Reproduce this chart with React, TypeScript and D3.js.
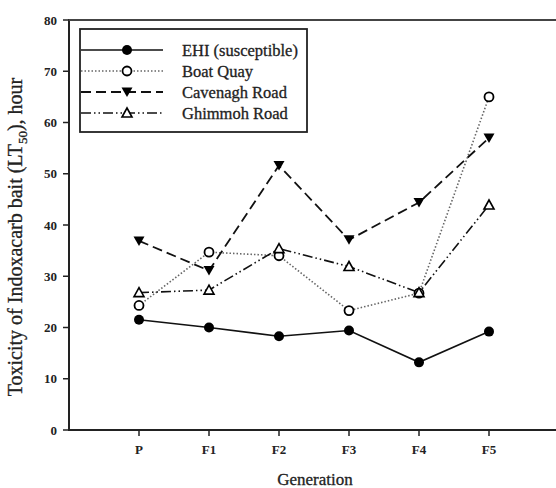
import { useEffect, useRef } from "react";
import * as d3 from "d3";

const generations = ["P", "F1", "F2", "F3", "F4", "F5"];
const ehi = [21.5, 20.0, 18.3, 19.4, 13.2, 19.2];
const boatQuay = [24.3, 34.7, 34.0, 23.3, 26.7, 65.0];
const cavenagh = [36.9, 31.1, 51.6, 37.1, 44.4, 57.0];
const ghimmoh = [26.8, 27.3, 35.4, 31.9, 26.8, 43.9];
const yTicks = [0, 10, 20, 30, 40, 50, 60, 70, 80];

const series = [
  { name: "EHI (susceptible)", values: ehi, dash: "", color: "#111", width: 1.6, marker: "dot" },
  { name: "Boat Quay", values: boatQuay, dash: "1.5,2", color: "#666", width: 1.6, marker: "circle" },
  { name: "Cavenagh Road", values: cavenagh, dash: "10,5", color: "#111", width: 1.8, marker: "tridown" },
  { name: "Ghimmoh Road", values: ghimmoh, dash: "10,3,1.5,3,1.5,3", color: "#111", width: 1.6, marker: "triup" },
];

function drawMarker(g, kind, x, y) {
  if (kind === "dot") {
    g.append("circle").attr("cx", x).attr("cy", y).attr("r", 5).attr("fill", "#000");
  } else if (kind === "circle") {
    g.append("circle").attr("cx", x).attr("cy", y).attr("r", 4.5)
      .attr("fill", "#fff").attr("stroke", "#000").attr("stroke-width", 1.8);
  } else if (kind === "tridown") {
    g.append("path").attr("d", `M${x - 5.5},${y - 4.5}L${x + 5.5},${y - 4.5}L${x},${y + 5}Z`).attr("fill", "#000");
  } else {
    g.append("path").attr("d", `M${x - 5},${y + 4}L${x + 5},${y + 4}L${x},${y - 5}Z`)
      .attr("fill", "#fff").attr("stroke", "#000").attr("stroke-width", 1.6);
  }
}

function App() {
  const svgRef = useRef(null);

  useEffect(() => {
    const width = 556;
    const height = 488;
    const svg = d3.select(svgRef.current);
    svg.selectAll("*").remove();

    const x = d3.scaleLinear().domain([0, 7]).range([69, 559]);
    const y = d3.scaleLinear().domain([0, 80]).range([430, 20]);
    const font = "'Liberation Serif', 'Times New Roman', serif";

    // frame: left, bottom, top
    svg.append("line").attr("x1", 69).attr("x2", 69).attr("y1", 19).attr("y2", 431)
      .attr("stroke", "#222").attr("stroke-width", 2);
    svg.append("line").attr("x1", 68).attr("x2", width).attr("y1", 430).attr("y2", 430)
      .attr("stroke", "#222").attr("stroke-width", 2);
    svg.append("line").attr("x1", 68).attr("x2", width).attr("y1", 20).attr("y2", 20)
      .attr("stroke", "#444").attr("stroke-width", 2);

    // y ticks
    const yAx = svg.append("g").attr("font-family", font).attr("font-weight", "bold").attr("font-size", 13);
    yTicks.forEach((t) => {
      yAx.append("line").attr("x1", 63).attr("x2", 69).attr("y1", y(t)).attr("y2", y(t))
        .attr("stroke", "#222").attr("stroke-width", 1.5);
      yAx.append("text").attr("x", 57).attr("y", y(t)).attr("dy", "0.35em")
        .attr("text-anchor", "end").attr("fill", "#222").text(t);
    });

    // x ticks
    const xAx = svg.append("g").attr("font-family", font).attr("font-weight", "bold").attr("font-size", 13);
    generations.forEach((g, i) => {
      xAx.append("line").attr("x1", x(i + 1)).attr("x2", x(i + 1)).attr("y1", 430).attr("y2", 436)
        .attr("stroke", "#222").attr("stroke-width", 1.5);
      xAx.append("text").attr("x", x(i + 1)).attr("y", 454)
        .attr("text-anchor", "middle").attr("fill", "#222").text(g);
    });

    // axis titles
    svg.append("text").attr("x", 315).attr("y", 485).attr("text-anchor", "middle")
      .attr("font-family", font).attr("font-size", 17).attr("fill", "#222")
      .attr("stroke", "#222").attr("stroke-width", 0.3).text("Generation");
    const yt = svg.append("text")
      .attr("transform", "translate(22,237) rotate(-90)")
      .attr("text-anchor", "middle").attr("font-family", font).attr("font-size", 20).attr("fill", "#222")
      .attr("stroke", "#222").attr("stroke-width", 0.3);
    yt.append("tspan").text("Toxicity of Indoxacarb bait (LT");
    yt.append("tspan").attr("font-size", 13).attr("dy", 5).text("50");
    yt.append("tspan").attr("dy", -5).text("), hour");

    // series
    const line = d3.line().x((d, i) => x(i + 1)).y((d) => y(d));
    series.forEach((s) => {
      svg.append("path").attr("d", line(s.values)).attr("fill", "none")
        .attr("stroke", s.color).attr("stroke-width", s.width)
        .attr("stroke-dasharray", s.dash || null);
    });
    series.forEach((s) => {
      const g = svg.append("g");
      s.values.forEach((v, i) => drawMarker(g, s.marker, x(i + 1), y(v)));
    });

    // legend
    const lg = svg.append("g");
    lg.append("rect").attr("x", 80).attr("y", 29).attr("width", 227).attr("height", 103)
      .attr("fill", "#fff").attr("stroke", "#222").attr("stroke-width", 1.8);
    series.forEach((s, i) => {
      const ly = 50 + i * 21;
      lg.append("line").attr("x1", 81).attr("x2", 163).attr("y1", ly).attr("y2", ly)
        .attr("stroke", s.color).attr("stroke-width", s.width)
        .attr("stroke-dasharray", s.dash || null);
      drawMarker(lg, s.marker, 127, ly);
      lg.append("text").attr("x", 182).attr("y", ly).attr("dy", "0.35em")
        .attr("font-family", font).attr("font-size", 16.5).attr("fill", "#222")
        .attr("stroke", "#222").attr("stroke-width", 0.3).text(s.name);
    });

    svg.attr("width", width).attr("height", height);
  }, []);

  return (
    <div style={{ position: "absolute", left: 0, top: 0 }}>
      <svg ref={svgRef} style={{ display: "block", background: "#fff" }}></svg>
    </div>
  );
}

export default App;
